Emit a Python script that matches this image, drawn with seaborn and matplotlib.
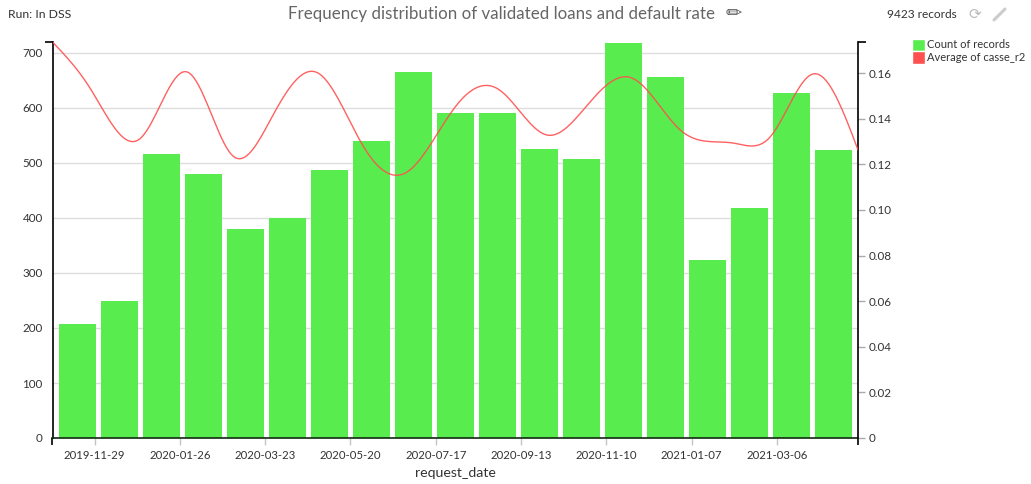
import numpy as np
import pandas as pd
import matplotlib
matplotlib.use("Agg")
import matplotlib.pyplot as plt
from matplotlib.lines import Line2D
from matplotlib.patches import Patch
import seaborn as sns

bar_index = list(range(19))
counts = [208, 250, 517, 480, 380, 400, 488, 540, 666, 591, 590, 526, 507, 718, 656, 324, 418, 627, 523]
date_labels = ["2019-11-29", "2020-01-26", "2020-03-23", "2020-05-20", "2020-07-17",
               "2020-09-13", "2020-11-10", "2021-01-07", "2021-03-06"]
# default rate read along the time axis (bar-index units, rate)
rate_pos = [-0.595, 0.298, 1.488, 2.607, 3.702, 4.655, 5.726, 6.80, 7.845, 8.99, 10.01,
            11.18, 12.20, 13.2, 14.35, 15.61, 16.49, 17.51, 18.58]
rate_val = [0.1736, 0.1534, 0.1312, 0.1605, 0.1236, 0.1416, 0.1600, 0.1280, 0.1166, 0.1451, 0.1530,
            0.1328, 0.1473, 0.1578, 0.1350, 0.1293, 0.1320, 0.1596, 0.1263]
left_ticks = [0, 100, 200, 300, 400, 500, 600, 700]
right_ticks = [0, 0.02, 0.04, 0.06, 0.08, 0.10, 0.12, 0.14, 0.16]
right_labels = ["0", "0.02", "0.04", "0.06", "0.08", "0.10", "0.12", "0.14", "0.16"]

GREEN = "#58ec4e"
RED = "#ff5050"
TXT = "#333333"
FONT = ["Lato", "DejaVu Sans"]


def smooth_curve(x, y, per=20):
    """Display smoothing only: natural cubic spline through the read values."""
    x, y = np.asarray(x), np.asarray(y)
    n = len(x)
    h = np.diff(x)
    A = np.zeros((n, n))
    b = np.zeros(n)
    A[0, 0] = A[-1, -1] = 1
    for i in range(1, n - 1):
        A[i, i - 1], A[i, i], A[i, i + 1] = h[i - 1], 2 * (h[i - 1] + h[i]), h[i]
        b[i] = 6 * ((y[i + 1] - y[i]) / h[i] - (y[i] - y[i - 1]) / h[i - 1])
    c = np.linalg.solve(A, b)
    xs, ys = [], []
    for i in range(n - 1):
        t = np.linspace(0, 1, per, endpoint=False)
        u = 1 - t
        xs.append(x[i] + t * h[i])
        ys.append(u * y[i] + t * y[i + 1] + h[i] ** 2 / 6 * ((u ** 3 - u) * c[i] + (t ** 3 - t) * c[i + 1]))
    xs.append([x[-1]]); ys.append([y[-1]])
    return np.concatenate(xs), np.concatenate(ys)


sns.set_theme(style="white")
plt.rcParams["font.family"] = FONT

W, H = 1031, 484
fig = plt.figure(figsize=(W / 100, H / 100), dpi=100)
ax = fig.add_axes([52.5 / W, 1 - 438 / H, (858 - 52.5) / W, (438 - 42) / H])

df = pd.DataFrame({"bar": bar_index, "count": counts})
sns.barplot(data=df, x="bar", y="count", native_scale=True, color=GREEN, saturation=1,
            width=0.881, linewidth=0, zorder=2, ax=ax)
ax.set_xlim(-0.595, 18.58)
ax.set_ylim(0, 720)
ax.set_yticks(left_ticks)
ax.set_yticklabels([str(t) for t in left_ticks])
ax.yaxis.grid(True, color="#dddddd", linewidth=1, zorder=0)
ax.set_axisbelow(True)
tick_pos = 0.405 + 2.031 * np.arange(len(date_labels))
ax.set_xticks(tick_pos)
ax.set_xticklabels(date_labels)
ax.tick_params(axis="x", which="major", length=5, width=1, color="#c4c4c4", labelsize=8.2, labelcolor=TXT, pad=3.5, bottom=True)
ax.tick_params(axis="y", which="major", length=0, labelsize=8.4, labelcolor=TXT, pad=7)
ax.set_xticks([-0.595, 18.58], minor=True)
ax.set_yticks([0, 720], minor=True)
ax.tick_params(axis="x", which="minor", length=5, width=1.2, color="black", bottom=True)
ax.tick_params(axis="y", which="minor", length=5.5, width=1.2, color="black", left=True)
ax.set_xlabel("request_date", fontsize=10.2, color=TXT, labelpad=4.5)
ax.set_ylabel("")
ax.spines["top"].set_visible(False)
ax.spines["right"].set_visible(False)
ax.spines["left"].set(color="black", linewidth=1.2)
ax.spines["bottom"].set(color="#102a10", linewidth=1.2, zorder=5)

ax2 = ax.twinx()
ax2.set_position(ax.get_position())
cx, cy = smooth_curve(rate_pos, rate_val)
sns.lineplot(x=cx, y=cy, color=RED, linewidth=1.0, alpha=0.9, estimator=None, sort=False, ax=ax2, zorder=4)
ax2.set_xlim(ax.get_xlim())
ax2.set_ylim(0, 0.1736)
ax2.set_yticks(right_ticks)
ax2.set_yticklabels(right_labels)
ax2.set_yticks([0, 0.1736], minor=True)
ax2.tick_params(axis="y", which="major", length=5, width=1, color="#aaaaaa", labelsize=8.4, labelcolor=TXT, pad=3, right=True)
ax2.tick_params(axis="y", which="minor", length=5.5, width=1.2, color="black", right=True)
ax2.set_ylabel("")
ax2.grid(False)
for s in ["top", "left", "bottom"]:
    ax2.spines[s].set_visible(False)
ax2.spines["right"].set(color="black", linewidth=1.2)
ax2.patch.set_visible(False)


def px(x, y, s, **kw):
    fig.text(x / W, 1 - y / H, s, va="center", **kw)


px(8, 14.5, "Run: In DSS", fontsize=8.8, color=TXT, ha="left")
px(501.5, 14, "Frequency distribution of validated loans and default rate", fontsize=12.2, color="#666666", ha="center")
px(734, 13.5, "\u270f", fontsize=14, color="#555555", ha="center", family=["DejaVu Sans"])
px(921.5, 15, "9423 records", fontsize=8.6, color=TXT, ha="center")
px(975, 14.5, "\u27f3", fontsize=11, color="#bbbbbb", ha="center", family=["DejaVu Sans"])
# collapse icon: no installed family has this glyph
fig.add_artist(Line2D([994 / W, 1005 / W], [1 - 20 / H, 1 - 9 / H], color="#cccccc", linewidth=2.2))

handles = [Patch(facecolor=GREEN, label="Count of records"), Patch(facecolor=RED, label="Average of casse_r2")]
fig.legend(handles=handles, loc="upper left", bbox_to_anchor=(912 / W, 1 - 38.5 / H), frameon=False,
           fontsize=8, labelcolor=TXT, handlelength=1.17, handleheight=1.35, handletextpad=0.2,
           labelspacing=0.02, borderpad=0, borderaxespad=0)

fig.savefig("out.png", dpi=100)
